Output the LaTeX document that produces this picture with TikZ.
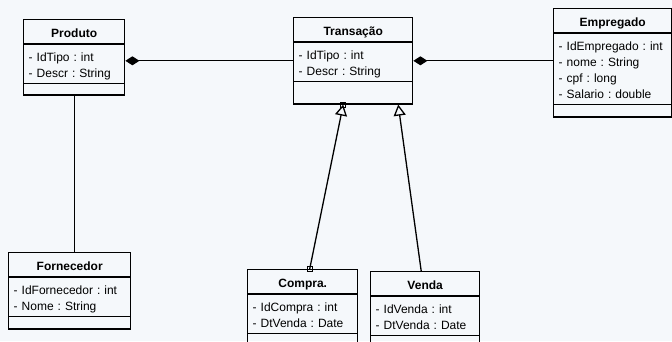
\documentclass[tikz,border=0pt]{standalone}
\usepackage{fontspec}
\setmainfont{Liberation Sans}
\frenchspacing
\definecolor{canvasbg}{RGB}{245, 248, 251}
\usetikzlibrary{shapes.multipart, arrows.meta, positioning, calc}
\newcommand{\clstitle}{\rule[-6pt]{0pt}{23pt}}
\newcommand{\clstop}{\rule{0pt}{17pt}}
\newcommand{\clsbot}{\rule[-5pt]{0pt}{5pt}}

\begin{document}
\begin{tikzpicture}[
  x=1pt, y=-1pt,
  umlclass/.style={draw, line width=1.4pt, rectangle split, rectangle split parts=3,
    inner xsep=5pt, inner ysep=0pt, align=left, anchor=north west,
    font=\fontsize{12}{16}\selectfont},
  composition/.style={line width=1.3pt, {Diamond[length=14pt, width=9pt]}-},
  generalization/.style={line width=1.3pt, -{Triangle[open, length=11pt, width=12pt]}},
  handle/.style={draw, line width=0.8pt, minimum size=5pt, inner sep=0pt}
]
  \fill[canvasbg] (0,0) rectangle (672,341);
  \useasboundingbox (0,0) rectangle (672,341);

  \node[umlclass, text width=91pt] (produto) at (23, 19) {
    \clstitle\hfill\textbf{Produto}\hfill\mbox{}
    \nodepart{two}\clstop- IdTipo : int\\- Descr : String\clsbot
    \nodepart{three}\rule{0pt}{10pt}
  };

  \node[umlclass, text width=109pt] (transacao) at (293, 17) {
    \clstitle\hfill\textbf{Transação}\hfill\mbox{}
    \nodepart{two}\clstop- IdTipo : int\\- Descr : String\clsbot
    \nodepart{three}\rule{0pt}{21pt}
  };

  \node[umlclass, text width=108pt] (empregado) at (553, 8) {
    \clstitle\hfill\textbf{Empregado}\hfill\mbox{}
    \nodepart{two}\clstop- IdEmpregado : int\\- nome : String\\- cpf : long\\- Salario : double\clsbot
    \nodepart{three}\rule{0pt}{11pt}
  };

  \node[umlclass, text width=112pt] (fornecedor) at (8, 252) {
    \clstitle\hfill\textbf{Fornecedor}\hfill\mbox{}
    \nodepart{two}\clstop- IdFornecedor : int\\- Nome : String\clsbot
    \nodepart{three}\rule{0pt}{11pt}
  };

  \node[umlclass, text width=100pt] (compra) at (247, 269) {
    \clstitle\hfill\textbf{Compra.}\hfill\mbox{}
    \nodepart{two}\clstop- IdCompra : int\\- DtVenda : Date\clsbot
    \nodepart{three}\rule{0pt}{11pt}
  };

  \node[umlclass, text width=99pt] (venda) at (370, 271) {
    \clstitle\hfill\textbf{Venda}\hfill\mbox{}
    \nodepart{two}\clstop- IdVenda : int\\- DtVenda : Date\clsbot
    \nodepart{three}\rule{0pt}{11pt}
  };

  % associations
  \draw[composition] (produto.east |- transacao.west) -- (transacao.west);
  \draw[composition] (transacao.east) -- (transacao.east -| empregado.west);
  \draw[line width=1.3pt] (produto.south) -- (produto.south |- fornecedor.north);

  % inheritance
  \node[handle] (hcompra) at ([xshift=7pt]compra.north) {};
  \node[handle] (htransacao) at ([xshift=-10pt]transacao.south) {};
  \draw[generalization] (hcompra.center) -- (htransacao.center);
  \draw[generalization] ([xshift=-4pt]venda.north) -- ([xshift=45pt]transacao.south);
\end{tikzpicture}
\end{document}
